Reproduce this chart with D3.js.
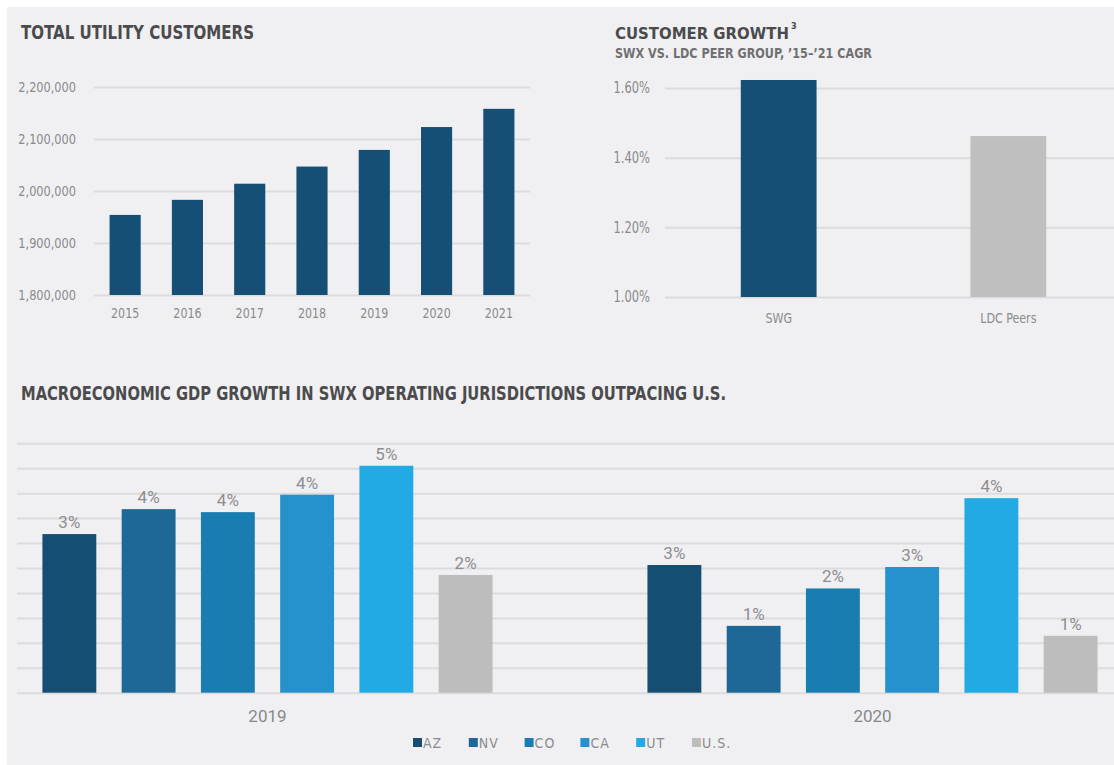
<!DOCTYPE html>
<html>
<head>
<meta charset="utf-8">
<script src="https://d3js.org/d3.v7.min.js"></script>
<style>
  body { margin: 0; background: #fff; }
  svg { display: block; }
  .tick line { stroke: #dcdcdd; stroke-width: 2; }
  .domain { display: none; }
</style>
</head>
<body>
<div id="chart"></div>
<script>
const W = 1114, H = 765;

// total utility customers
const years = ["2015", "2016", "2017", "2018", "2019", "2020", "2021"];
const customers = [1954000, 1983000, 2014000, 2047000, 2079000, 2123000, 2158000];
const customerTicks = [1800000, 1900000, 2000000, 2100000, 2200000];

// customer growth CAGR (%)
const growthCats = ["SWG", "LDC Peers"];
const growthVals = [1.623, 1.462];
const growthTicks = [1.0, 1.2, 1.4, 1.6];

// GDP growth (%)
const gdpYears = ["2019", "2020"];
const states = ["AZ", "NV", "CO", "CA", "UT", "U.S."];
const gdp2019 = [3.18, 3.68, 3.62, 3.97, 4.55, 2.36];
const gdp2020 = [2.56, 1.34, 2.09, 2.52, 3.90, 1.14];
const gdp2019Labels = ["3%", "4%", "4%", "4%", "5%", "2%"];
const gdp2020Labels = ["3%", "1%", "2%", "3%", "4%", "1%"];
const gdpGrid = [0, 0.5, 1, 1.5, 2, 2.5, 3, 3.5, 4, 4.5, 5];

const stateColors = ["#164e73", "#1d6896", "#1a7db1", "#2592cd", "#21aae3", "#bebdbe"];
const NAVY = "#154f75", GREY = "#bfbfbf";
const TITLE = "#4b4b4d", TICK = "#8a8a8c";
const NARROW = "'DejaVu Sans Condensed', 'Liberation Sans Narrow', sans-serif";
const SANS = "Roboto, 'Liberation Sans', sans-serif";

const svg = d3.select("#chart").append("svg")
    .attr("width", W).attr("height", H);

svg.append("rect").attr("x", 7).attr("y", 7)
    .attr("width", W - 7).attr("height", H - 7).attr("fill", "#f0f0f2");

// squeeze text horizontally to get the condensed look of the original
function squeeze(sel, k) {
    sel.each(function () {
        const len = this.getComputedTextLength();
        d3.select(this).attr("textLength", len * k).attr("lengthAdjust", "spacingAndGlyphs");
    });
}

function title(x, y, txt, len, size) {
    return svg.append("text")
        .attr("x", x).attr("y", y)
        .attr("font-family", NARROW).attr("font-weight", "bold")
        .attr("font-size", size).attr("fill", TITLE)
        .attr("textLength", len).attr("lengthAdjust", "spacingAndGlyphs")
        .text(txt);
}

// ---------- TOTAL UTILITY CUSTOMERS ----------
title(21, 39, "TOTAL UTILITY CUSTOMERS", 233, 19);

const x1 = d3.scaleBand().domain(years).range([94, 530])
    .paddingInner(0.5).paddingOuter(0.25);
const y1 = d3.scaleLinear().domain([1800000, 2200000]).range([295, 87]);

const g1y = svg.append("g").attr("transform", "translate(94,0)")
    .call(d3.axisLeft(y1).tickValues(customerTicks).tickSize(-(530 - 94))
        .tickPadding(18).tickFormat(d3.format(",")));
g1y.selectAll("text").attr("font-family", NARROW).attr("font-size", 14).attr("fill", TICK)
    .call(squeeze, 0.9);

svg.append("g").selectAll("rect").data(customers).join("rect")
    .attr("x", (d, i) => x1(years[i]))
    .attr("y", d => y1(d))
    .attr("width", x1.bandwidth())
    .attr("height", d => y1(1800000) - y1(d))
    .attr("fill", NAVY);

const g1x = svg.append("g").attr("transform", "translate(0,295)")
    .call(d3.axisBottom(x1).tickSize(0).tickPadding(13));
g1x.selectAll("text").attr("font-family", NARROW).attr("font-size", 14).attr("fill", TICK)
    .call(squeeze, 0.88);

// ---------- CUSTOMER GROWTH ----------
// sized from its measured width so the superscript can sit right after it
const cg = svg.append("text").attr("x", 615).attr("y", 39)
    .attr("font-family", NARROW).attr("font-weight", "bold")
    .attr("font-size", 19).attr("fill", TITLE).text("CUSTOMER GROWTH");
cg.attr("font-size", 19 * 174 / cg.node().getComputedTextLength());
const cgEnd = 615 + cg.node().getComputedTextLength();
svg.append("text").attr("x", cgEnd + 2).attr("y", 29)
    .attr("font-family", NARROW).attr("font-weight", "bold")
    .attr("font-size", 9).attr("fill", TITLE).text("3");
svg.append("text").attr("x", 615).attr("y", 58)
    .attr("font-family", NARROW).attr("font-weight", "bold")
    .attr("font-size", 14).attr("fill", "#707072")
    .attr("textLength", 257).attr("lengthAdjust", "spacingAndGlyphs")
    .text("SWX VS. LDC PEER GROUP, \u201915\u2013\u201921 CAGR");

const x2 = d3.scaleBand().domain(growthCats).range([665, 1122])
    .paddingInner(0.67).paddingOuter(0.33);
const y2 = d3.scaleLinear().domain([1.0, 1.6]).range([297, 88]);

const g2y = svg.append("g").attr("transform", "translate(665,0)")
    .call(d3.axisLeft(y2).tickValues(growthTicks).tickSize(-(W - 665))
        .tickPadding(15).tickFormat(d => d.toFixed(2) + "%"));
g2y.selectAll("text").attr("font-family", NARROW).attr("font-size", 15).attr("fill", TICK)
    .call(squeeze, 0.85);

svg.append("g").selectAll("rect").data(growthVals).join("rect")
    .attr("x", (d, i) => x2(growthCats[i]))
    .attr("y", d => y2(d))
    .attr("width", x2.bandwidth())
    .attr("height", d => y2(1.0) - y2(d))
    .attr("fill", (d, i) => i === 0 ? NAVY : GREY);

const g2x = svg.append("g").attr("transform", "translate(0,297)")
    .call(d3.axisBottom(x2).tickSize(0).tickPadding(16));
g2x.selectAll("text").attr("font-family", NARROW).attr("font-size", 14).attr("fill", TICK)
    .call(squeeze, 0.88);

// ---------- GDP GROWTH ----------
title(21, 400, "MACROECONOMIC GDP GROWTH IN SWX OPERATING JURISDICTIONS OUTPACING U.S.", 705, 19);

const x3 = d3.scaleBand().domain(gdpYears).range([17, 1123])
    .paddingInner(0.256).paddingOuter(0.042);
const x3s = d3.scaleBand().domain(states).range([0, x3.bandwidth()])
    .paddingInner(0.32).paddingOuter(0);
const y3 = d3.scaleLinear().domain([0, 5]).range([692.7, 443.3]);

svg.append("g").attr("transform", "translate(17,0)")
    .call(d3.axisLeft(y3).tickValues(gdpGrid).tickSize(-(W - 17)).tickFormat(""));

const gdpRows = [
    {year: "2019", vals: gdp2019, labels: gdp2019Labels},
    {year: "2020", vals: gdp2020, labels: gdp2020Labels}
];

const groups = svg.append("g").selectAll("g").data(gdpRows).join("g")
    .attr("transform", d => `translate(${x3(d.year)},0)`);

groups.selectAll("rect")
    .data(d => d.vals.map((v, i) => ({state: states[i], v: v, i: i})))
    .join("rect")
    .attr("x", d => x3s(d.state))
    .attr("y", d => y3(d.v))
    .attr("width", x3s.bandwidth())
    .attr("height", d => y3(0) - y3(d.v))
    .attr("fill", d => stateColors[d.i]);

groups.selectAll("text.val")
    .data(d => d.vals.map((v, i) => ({state: states[i], v: v, lab: d.labels[i]})))
    .join("text").attr("class", "val")
    .attr("x", d => x3s(d.state) + x3s.bandwidth() / 2)
    .attr("y", d => y3(d.v) - 6)
    .attr("text-anchor", "middle")
    .attr("font-family", SANS).attr("font-size", 17).attr("fill", "#8e8e90")
    .text(d => d.lab);

const g3x = svg.append("g").attr("transform", "translate(0,692.7)")
    .call(d3.axisBottom(x3).tickSize(0).tickPadding(17));
g3x.selectAll("text").attr("font-family", SANS).attr("font-size", 17).attr("fill", "#88888a");

// legend
const legend = svg.append("g").selectAll("g").data(states).join("g")
    .attr("transform", (d, i) => `translate(${413 + i * 55.8},738)`);
legend.append("rect").attr("width", 9).attr("height", 9)
    .attr("fill", (d, i) => stateColors[i]);
legend.append("text").attr("x", 10).attr("y", 9.5)
    .attr("font-family", NARROW).attr("font-size", 14)
    .attr("letter-spacing", 1).attr("fill", TICK)
    .text(d => d);
</script>
</body>
</html>
